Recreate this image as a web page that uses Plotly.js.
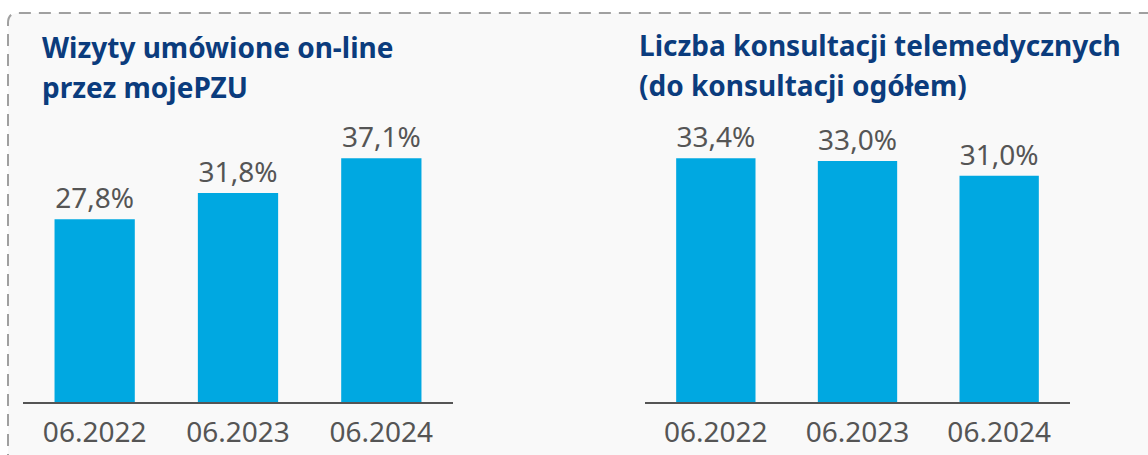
<!DOCTYPE html>
<html>
<head>
<meta charset="utf-8">
<script src="https://cdn.plot.ly/plotly-3.0.1.min.js"></script>
<style>html,body{margin:0;padding:0;background:#fff;}#chart{width:1148px;height:455px;}</style>
</head>
<body>
<div id="chart"></div>
<script>
const categories = ["06.2022", "06.2023", "06.2024"];
const visitsOnline = [27.8, 31.8, 37.1];
const teleConsultations = [33.4, 33.0, 31.0];
const titleLeft = ["Wizyty umówione on-line", "przez mojePZU"];
const titleRight = ["Liczba konsultacji telemedycznych", "(do konsultacji ogółem)"];

const W = 1148, H = 455;
const px = x => x / W;
const py = y => 1 - y / H;
const FONT = "Noto Sans, Open Sans, sans-serif";
const BAR = "#00a8e1";
const TXT = "#555555";
const fmt = v => v.toFixed(1).replace(".", ",") + "%";

const traces = [
  {type: "bar", x: categories, y: visitsOnline, xaxis: "x", yaxis: "y",
   marker: {color: BAR}, width: 0.56,
   text: visitsOnline.map(fmt), textposition: "outside", cliponaxis: false,
   textfont: {family: FONT, size: 28, color: TXT}, hoverinfo: "none"},
  {type: "bar", x: categories, y: teleConsultations, xaxis: "x2", yaxis: "y2",
   marker: {color: BAR}, width: 0.56,
   text: teleConsultations.map(fmt), textposition: "outside", cliponaxis: false,
   textfont: {family: FONT, size: 28, color: TXT}, hoverinfo: "none"}
];

const yTop = 120, yBot = 402;
const xaxisBase = {
  type: "category", showline: true, linecolor: "#555", linewidth: 2,
  ticks: "", showgrid: false, zeroline: false, fixedrange: true,
  ticklabelstandoff: 4,
  tickfont: {family: FONT, size: 28, color: TXT}, range: [-0.5, 2.5]
};
const yaxisBase = {
  showline: false, showgrid: false, zeroline: false, showticklabels: false,
  ticks: "", fixedrange: true, domain: [py(yBot), py(yTop)]
};

const titleFont = {family: FONT, size: 28, color: "#0b3c7d", weight: "bold"};
function titleAnn(text, x, y) {
  return {text: "<b>" + text + "</b>", xref: "paper", yref: "paper",
    x: px(x), y: py(y), xanchor: "left", yanchor: "middle",
    showarrow: false, font: titleFont};
}

const layout = {
  width: W, height: H,
  margin: {l: 0, r: 0, t: 0, b: 0},
  paper_bgcolor: "#ffffff", plot_bgcolor: "rgba(0,0,0,0)",
  showlegend: false,
  xaxis: Object.assign({}, xaxisBase, {domain: [px(23), px(453)], anchor: "y"}),
  yaxis: Object.assign({}, yaxisBase, {range: [0, (yBot - yTop) / 6.57], anchor: "x"}),
  xaxis2: Object.assign({}, xaxisBase, {domain: [px(645), px(1070)], anchor: "y2"}),
  yaxis2: Object.assign({}, yaxisBase, {range: [0, (yBot - yTop) / 7.3], anchor: "x2"}),
  shapes: [{
    type: "path", xref: "paper", yref: "paper", layer: "below",
    path: `M ${px(8)},-0.2 L ${px(8)},${py(23)} Q ${px(8)},${py(13)} ${px(18)},${py(13)} L 1.2,${py(13)} L 1.2,-0.2 Z`,
    fillcolor: "#f9f9f9",
    line: {color: "#a0a0a0", width: 2, dash: "12px,8px"}
  }],
  annotations: [
    titleAnn(titleLeft[0], 40, 47),
    titleAnn(titleLeft[1], 40, 87),
    titleAnn(titleRight[0], 637, 45),
    titleAnn(titleRight[1], 637, 85)
  ]
};

Plotly.newPlot("chart", traces, layout, {displayModeBar: false, staticPlot: true});
</script>
</body>
</html>
